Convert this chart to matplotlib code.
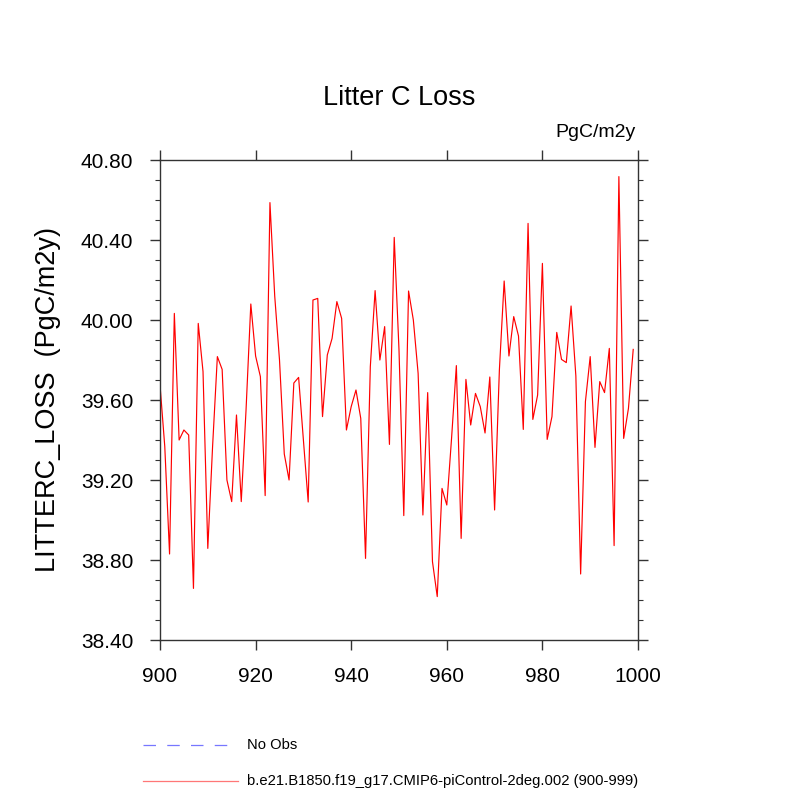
import matplotlib
matplotlib.use("Agg")
import matplotlib.pyplot as plt
from matplotlib.lines import Line2D
import numpy as np

plt.rcParams['font.family'] = ['Liberation Sans', 'DejaVu Sans']

years = np.arange(900, 1000)
litterc_loss = [
    39.675, 39.367, 38.830, 40.033, 39.400, 39.450, 39.425, 38.658, 39.983, 39.742,
    38.858, 39.367, 39.817, 39.753, 39.200, 39.092, 39.525, 39.092, 39.550, 40.080,
    39.820, 39.717, 39.122, 40.587, 40.120, 39.800, 39.330, 39.200, 39.685, 39.713,
    39.400, 39.090, 40.100, 40.108, 39.517, 39.825, 39.908, 40.092, 40.008, 39.450,
    39.567, 39.650, 39.508, 38.808, 39.767, 40.147, 39.800, 39.967, 39.378, 40.413,
    39.850, 39.022, 40.145, 40.000, 39.733, 39.025, 39.637, 38.792, 38.617, 39.158,
    39.075, 39.410, 39.772, 38.908, 39.703, 39.475, 39.633, 39.567, 39.435, 39.715,
    39.050, 39.750, 40.195, 39.820, 40.017, 39.920, 39.453, 40.483, 39.503, 39.625,
    40.283, 39.403, 39.517, 39.938, 39.803, 39.787, 40.070, 39.720, 38.730, 39.592,
    39.817, 39.363, 39.692, 39.637, 39.858, 38.872, 40.717, 39.408, 39.558, 39.853,
]
yticks = [38.40, 38.80, 39.20, 39.60, 40.00, 40.40, 40.80]
xticks = [900, 920, 940, 960, 980, 1000]

title = "Litter C Loss"
units = "PgC/m2y"
ylabel = "LITTERC_LOSS  (PgC/m2y)"
legend_labels = ["No Obs", "b.e21.B1850.f19_g17.CMIP6-piControl-2deg.002 (900-999)"]

fig = plt.figure(figsize=(8, 8), dpi=100)
ax = fig.add_axes([0.2, 0.2, 0.5975, 0.6])
ax.plot(years, litterc_loss, color='red', linewidth=0.85)

ax.set_xlim(900, 1000)
ax.set_ylim(38.40, 40.80)
ax.set_xticks(xticks)
ax.set_xticklabels([str(t) for t in xticks])
ax.set_yticks(yticks)
ax.set_yticklabels([f"{t:.2f}" for t in yticks])
ax.set_yticks(np.arange(38.40, 40.801, 0.1), minor=True)

axcol = '#333333'
for s in ax.spines.values():
    s.set_color(axcol)
    s.set_linewidth(1.0)
ax.tick_params(axis='both', which='major', direction='out', length=7.2, width=1.0,
               color=axcol, labelsize=15, top=True, right=True, pad=12)
ax.tick_params(axis='y', which='minor', direction='out', length=3.6, width=0.8,
               color=axcol, left=True, right=True)
ax.tick_params(axis='x', which='minor', bottom=False, top=False)

ax.set_ylabel(ylabel, fontsize=19.5, labelpad=14)
fig.text(0.499, 0.878, title, fontsize=19.5, ha='center', va='center')
fig.text(0.795, 0.834, units, fontsize=14, ha='right', va='center')

# legend
fig.add_artist(Line2D([143/800, 238/800], [1-745/800, 1-745/800], color='#7777ff',
                      linewidth=0.9, linestyle=(0, (10.0, 9.0))))
fig.add_artist(Line2D([143/800, 238/800], [1-781/800, 1-781/800], color='#ff7777',
                      linewidth=0.9))
fig.text(247/800, 1-745/800, legend_labels[0], fontsize=10.6, ha='left', va='center')
fig.text(247/800, 1-781/800, legend_labels[1], fontsize=10.6, ha='left', va='center')

fig.savefig("out.png", dpi=100)
